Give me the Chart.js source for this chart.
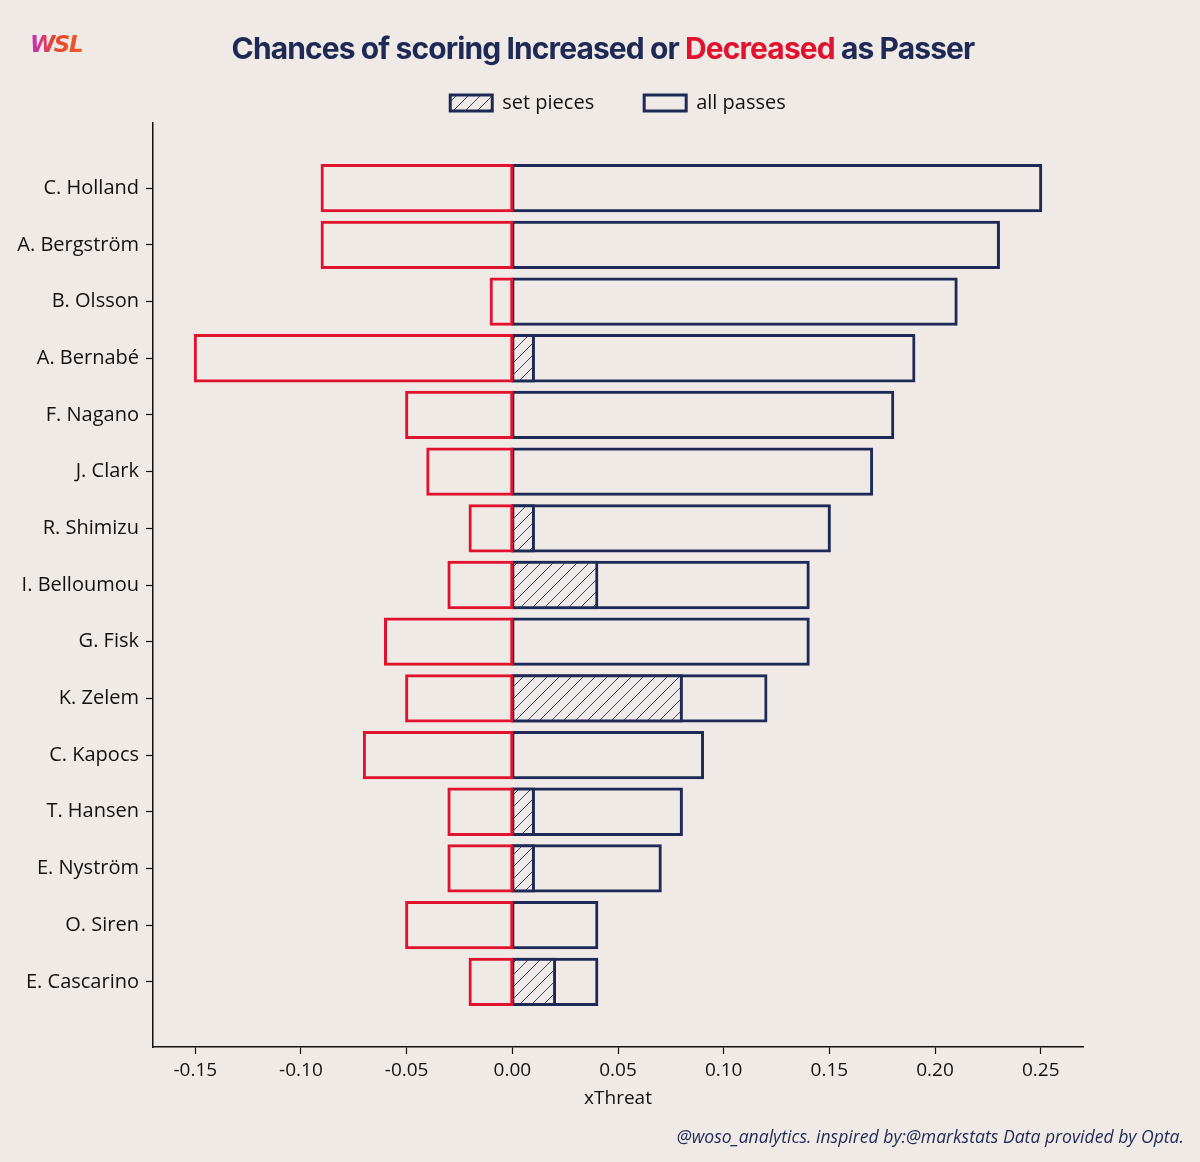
<!DOCTYPE html>
<html>
<head>
<meta charset="utf-8">
<script src="https://cdn.jsdelivr.net/npm/chart.js@4.4.1/dist/chart.umd.min.js"></script>
<style>
  html,body{margin:0;padding:0;background:#EFEAE6;}
  #wrap{position:relative;width:1200px;height:1162px;}
  #title{position:absolute;left:0;width:1206px;top:30px;text-align:center;font:700 30px Inter,sans-serif;letter-spacing:-0.9px;color:#1E2A55;}
  #title .dec{color:#E0122E;}
  #logo{position:absolute;left:30px;top:31px;font:italic 900 23px "DejaVu Sans",sans-serif;letter-spacing:-1.5px;
    background:linear-gradient(90deg,#C42AC8 0%,#E8452E 45%,#F05A22 100%);-webkit-background-clip:text;background-clip:text;color:transparent;}
  #foot{position:absolute;right:16px;top:1124px;font:italic 17.6px "Open Sans",sans-serif;color:#1E2A55;}
  canvas{position:absolute;left:0;top:0;}
</style>
</head>
<body>
<div id="wrap">
  <canvas id="c" width="1200" height="1162"></canvas>
  <div id="logo">WSL</div>
  <div id="title">Chances of scoring Increased or <span class="dec">Decreased</span> as Passer</div>
  <div id="foot">@woso_analytics. inspired by:@markstats Data provided by Opta.</div>
</div>
<script>
/* DATA */
const players=['C. Holland','A. Bergström','B. Olsson','A. Bernabé','F. Nagano','J. Clark','R. Shimizu','I. Belloumou','G. Fisk','K. Zelem','C. Kapocs','T. Hansen','E. Nyström','O. Siren','E. Cascarino'];
const allPasses=[0.25,0.23,0.21,0.19,0.18,0.17,0.15,0.14,0.14,0.12,0.09,0.08,0.07,0.04,0.04];
const setPieces=[0,0,0,0.01,0,0,0.01,0.04,0,0.08,0,0.01,0.01,0,0.02];
const decreased=[-0.09,-0.09,-0.01,-0.15,-0.05,-0.04,-0.02,-0.03,-0.06,-0.05,-0.07,-0.03,-0.03,-0.05,-0.02];
const xTicks=[-0.15,-0.10,-0.05,0.00,0.05,0.10,0.15,0.20,0.25];

const BG='#EFEAE6',NAVY='#1E2A55',RED='#E0122E',INK='#111111';
const FONT="'Open Sans', sans-serif";

/* hatch */
function hatch(){
  const s=12,cv=document.createElement('canvas');
  cv.width=s;cv.height=s;
  const g=cv.getContext('2d');
  g.fillStyle=BG;g.fillRect(0,0,s,s);
  g.strokeStyle='#3A4468';g.lineWidth=1;
  g.beginPath();
  g.moveTo(0,s);g.lineTo(s,0);
  g.moveTo(-s/2,s/2);g.lineTo(s/2,-s/2);
  g.moveTo(s/2,s*1.5);g.lineTo(s*1.5,s/2);
  g.stroke();
  return g.createPattern(cv,'repeat');
}
const hp=hatch();

const pts=arr=>arr.map((v,i)=>({x:v===0?null:v,y:i}));
const barStyle={borderWidth:3,borderSkipped:false,inflateAmount:1.5,grouped:false,barPercentage:0.8,categoryPercentage:1};

new Chart(document.getElementById('c'),{
  type:'bar',
  data:{datasets:[
    {label:'decreased',data:pts(decreased),backgroundColor:BG,borderColor:RED,...barStyle},
    {label:'set pieces',data:pts(setPieces),backgroundColor:hp,borderColor:NAVY,...barStyle},
    {label:'all passes',data:pts(allPasses),backgroundColor:BG,borderColor:NAVY,...barStyle},
  ]},
  options:{
    indexAxis:'y',responsive:false,animation:false,
    layout:{padding:{top:43,right:117,bottom:52,left:0}},
    plugins:{
      legend:{display:true,position:'top',fullSize:false,
        labels:{boxWidth:42,boxHeight:16,padding:50,color:INK,font:{family:FONT,size:20},
          filter:it=>it.text!=='decreased'}},
      tooltip:{enabled:false}
    },
    scales:{
      x:{type:'linear',min:-0.17,max:0.27,
        afterBuildTicks:s=>{s.ticks=xTicks.map(v=>({value:v}));},
        afterFit:s=>{s.height=63;},
        ticks:{color:INK,font:{family:FONT,size:19},padding:5,callback:v=>v.toFixed(2)},
        grid:{display:true,drawOnChartArea:false,drawTicks:true,tickLength:7,color:INK,tickWidth:1.2},
        border:{display:true,color:INK,width:1.5},
        title:{display:true,text:'xThreat',color:INK,font:{family:FONT,size:19},padding:{top:0,bottom:0}}
      },
      y:{type:'linear',reverse:true,min:-1.15,max:15.15,offset:false,
        afterBuildTicks:s=>{s.ticks=players.map((p,i)=>({value:i}));},
        afterFit:s=>{s.width=153;},
        ticks:{color:INK,font:{family:FONT,size:20},padding:7,autoSkip:false,callback:v=>players[v]},
        grid:{display:true,offset:false,drawOnChartArea:false,drawTicks:true,tickLength:7,color:INK,tickWidth:1.2},
        border:{display:true,color:INK,width:1.5}
      }
    }
  }
});
</script>
</body>
</html>
